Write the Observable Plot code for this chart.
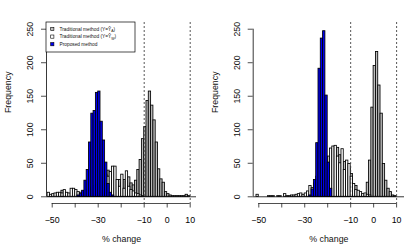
<!DOCTYPE html>
<html><head><meta charset="utf-8">
<script src="https://cdn.jsdelivr.net/npm/d3@7"></script>
<script src="https://cdn.jsdelivr.net/npm/@observablehq/plot@0.6"></script>
<style>
body{margin:0;background:#fff;}
#wrap{display:flex;width:413px;height:249px;overflow:hidden;}
svg{display:block}
</style></head><body><div id="wrap"></div>
<script>
// histogram bin left edges (% change), width 1
const binStart = [-52,-51,-50,-49,-48,-47,-46,-45,-44,-43,-42,-41,-40,-39,-38,-37,-36,-35,-34,-33,-32,-31,-30,-29,-28,-27,-26,-25,-24,-23,-22,-21,-20,-19,-18,-17,-16,-15,-14,-13,-12,-11,-10,-9,-8,-7,-6,-5,-4,-3,-2,-1,0,1,2,3,4,5,6,7,8,9,10,11,12];

// left panel counts
const leftTradA = [0,0,0,0,0,0,9,0,0,0, 0,0,0,0,0,0,0,0,0,0, 0,0,0,0,0,0,39,10,12,10, 18,25,20,25,22,29,20,17,24,40, 55,86,104,143,157,136,114,81,41,26, 21,7,4,2,1,1,1,1,1,1, 3,1,0,0,0];
const leftTradW = [6,3,4,5,6,6,5,10,6,5, 12,12,10,7,6,6,8,10,12,14, 16,18,20,24,28,33,30,37,45,45, 25,15,33,12,38,15,10,8,5,4, 2,1,0,0,0,0,0,0,0,0, 0,0,0,0,0,0,0,0,0,0, 0,0,0,0,0];
const leftProposed = [0,0,0,0,0,0,0,0,0,0, 0,0,0,2,4,9,24,40,81,124, 128,155,157,112,84,51,19,6,2,0, 0,0,0,0,0,0,0,0,0,0, 0,0,0,0,0,0,0,0,0,0, 0,0,0,0,0,0,0,0,0,0, 0,0,0,0,0];

// right panel counts
const rightTradA = [0,0,0,0,0,0,0,0,0,0, 0,0,0,0,0,0,0,0,0,0, 0,0,0,0,0,0,0,0,0,0, 0,0,60,30,25,30,73,62,40,52, 35,45,34,12,16,5,3,2,3,21, 54,133,195,216,166,124,49,24,12,7, 2,1,0,0,0];
const rightTradW = [0,3,0,0,0,0,1,1,1,0, 1,1,0,4,1,1,2,2,3,4, 5,3,5,8,16,13,20,30,40,50, 55,58,50,72,75,76,60,50,71,40, 54,49,30,19,10,9,7,4,5,3, 2,0,0,0,0,0,0,0,0,0, 0,0,0,0,0];
const rightProposed = [0,0,0,0,0,0,0,0,0,0, 0,0,0,0,0,0,0,0,0,0, 0,0,0,0,2,11,25,80,191,236, 247,151,51,12,0,0,0,0,0,0, 0,0,0,0,0,0,0,0,0,0, 0,0,0,0,0,0,0,0,0,0, 0,0,0,0,0];

const yTicks = [0,50,100,150,200,250];
const xTicks = [-50,-40,-30,-20,-10,0,10];
const xTickLabels = ["\u221250","","\u221230","","\u221210","0","10"];
const refLines = [-10,10];
const legendLabels = [["Traditional method (Y=\u0176","A",")"],["Traditional method (Y=\u0176","W",")"],["Proposed method","",""]];
const seriesColors = ["#bebebe","#ffffff","#0000f0"];

const font = "'Liberation Sans', Arial, Helvetica, sans-serif";
const labelMap = new Map(xTicks.map((t,i)=>[t,xTickLabels[i]]));

function rows(counts){
  return binStart.map((b,i)=>({x1:b, x2:b+1, y:counts[i]})).filter(d=>d.y>0);
}

function panel(A, W, B, width, marginLeft, marginRight, domain){
  const bar = (data, fill) => Plot.rect(data, {x1:"x1", x2:"x2", y1:0, y2:"y", fill, stroke:"black", strokeWidth:0.85});
  return Plot.plot({
    width, height:249, marginLeft, marginRight, marginTop:22, marginBottom:46,
    x:{domain, axis:null}, y:{domain:[-10,260], axis:null},
    style:{fontFamily:font, fontSize:"8.8px", background:"white", color:"black", overflow:"visible"},
    marks:[
      bar(rows(A), seriesColors[0]),
      bar(rows(W), seriesColors[1]),
      bar(rows(B), seriesColors[2]),
      Plot.ruleY([0], {stroke:"black", strokeWidth:0.8}),
      Plot.ruleX(refLines, {stroke:"#444", strokeDasharray:"2,2", strokeWidth:0.9}),
      Plot.axisX(xTicks, {anchor:"bottom", tickSize:4.5, tickPadding:9, tickFormat:d=>labelMap.get(d), label:null, stroke:"#222", strokeWidth:0.8}),
      Plot.ruleY([-10], {x1:xTicks[0], x2:xTicks[xTicks.length-1], stroke:"#222", strokeWidth:0.8}),
      Plot.axisY(yTicks, {anchor:"left", tickSize:5, tickFormat:()=>"", label:null, stroke:"#222", strokeWidth:0.8}),
      Plot.ruleX([domain[0]], {y1:yTicks[0], y2:yTicks[yTicks.length-1], stroke:"#222", strokeWidth:0.9}),
      Plot.text(yTicks, {y:d=>d, text:d=>String(d), frameAnchor:"left", rotate:-90, dx:-16, textAnchor:"middle", fill:"#111"}),
      Plot.text(["Frequency"], {text:d=>d, frameAnchor:"left", rotate:-90, dx:-38, fill:"#111"}),
      Plot.text(["% change"], {text:d=>d, frameAnchor:"bottom", dy:38.7, fill:"#111"})
    ]
  });
}

const p1 = panel(leftTradA, leftTradW, leftProposed, 206, 46, 10, [-52.48, 12.74]);
const p2 = panel(rightTradA, rightTradW, rightProposed, 207, 46.7, 9, [-52.43, 13.44]);
document.getElementById("wrap").append(p1, p2);

// legend inside left panel
const g = d3.select(p1).append("g").attr("font-family", font).attr("font-size", 4.8)
  .attr("fill", "#111").attr("text-anchor", "start");
g.append("rect").attr("x",46).attr("y",22).attr("width",89).attr("height",30)
  .attr("fill","white").attr("stroke","black").attr("stroke-width",0.7);
legendLabels.forEach((lab,i)=>{
  const cy = 29 + i*7.6;
  g.append("rect").attr("x",50.7).attr("y",cy-1.6).attr("width",3.2).attr("height",3.2)
    .attr("fill",seriesColors[i]).attr("stroke","black").attr("stroke-width",0.6);
  const t = g.append("text").attr("x",59.5).attr("y",cy+1.7).attr("text-anchor","start");
  t.append("tspan").text(lab[0]);
  if (lab[1]) {
    t.append("tspan").attr("dy",1.2).attr("font-size",3.4).text(lab[1]);
    t.append("tspan").attr("dy",-1.2).text(lab[2]);
  }
});
</script></body></html>
